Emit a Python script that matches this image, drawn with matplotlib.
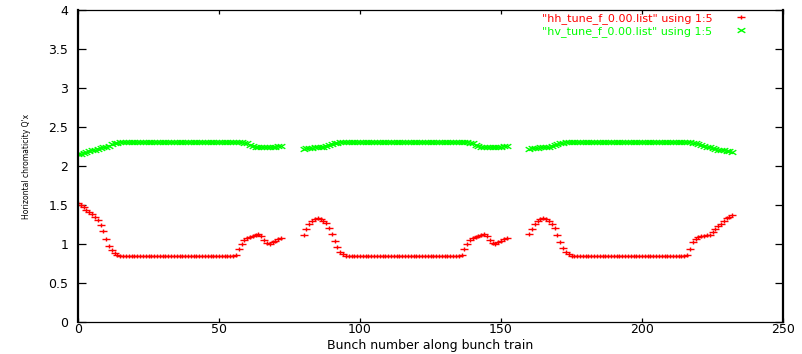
import numpy as np
import matplotlib
matplotlib.use('Agg')
import matplotlib.pyplot as plt
from matplotlib.path import Path

# first bunch number of each train
train_start = [0, 80, 160]

# "hh_tune_f_0.00.list" using 1:5  (one list per train)
hh_train1 = [1.53, 1.50, 1.47, 1.44, 1.41, 1.38, 1.35, 1.31, 1.25, 1.17,
             1.07, 0.98, 0.92, 0.88, 0.86, 0.85, 0.85, 0.85, 0.85, 0.85,
             0.85, 0.85, 0.85, 0.85, 0.85, 0.85, 0.85, 0.85, 0.85, 0.85,
             0.85, 0.85, 0.85, 0.85, 0.85, 0.85, 0.85, 0.85, 0.85, 0.85,
             0.85, 0.85, 0.85, 0.85, 0.85, 0.85, 0.85, 0.85, 0.85, 0.85,
             0.85, 0.85, 0.85, 0.85, 0.85, 0.85, 0.86, 0.93, 1.00, 1.05,
             1.08, 1.09, 1.10, 1.12, 1.13, 1.10, 1.05, 1.01, 1.00, 1.02,
             1.04, 1.06, 1.08]
hh_train2 = [1.12, 1.19, 1.26, 1.30, 1.32, 1.33, 1.32, 1.30, 1.27, 1.21,
             1.13, 1.04, 0.96, 0.90, 0.87, 0.85, 0.85, 0.85, 0.85, 0.85,
             0.85, 0.85, 0.85, 0.85, 0.85, 0.85, 0.85, 0.85, 0.85, 0.85,
             0.85, 0.85, 0.85, 0.85, 0.85, 0.85, 0.85, 0.85, 0.85, 0.85,
             0.85, 0.85, 0.85, 0.85, 0.85, 0.85, 0.85, 0.85, 0.85, 0.85,
             0.85, 0.85, 0.85, 0.85, 0.85, 0.85, 0.86, 0.93, 1.00, 1.05,
             1.08, 1.09, 1.10, 1.12, 1.13, 1.10, 1.05, 1.01, 1.00, 1.02,
             1.04, 1.06, 1.08]
hh_train3 = [1.13, 1.19, 1.26, 1.30, 1.32, 1.33, 1.32, 1.30, 1.26, 1.20,
             1.12, 1.03, 0.95, 0.90, 0.87, 0.85, 0.85, 0.85, 0.85, 0.85,
             0.85, 0.85, 0.85, 0.85, 0.85, 0.85, 0.85, 0.85, 0.85, 0.85,
             0.85, 0.85, 0.85, 0.85, 0.85, 0.85, 0.85, 0.85, 0.85, 0.85,
             0.85, 0.85, 0.85, 0.85, 0.85, 0.85, 0.85, 0.85, 0.85, 0.85,
             0.85, 0.85, 0.85, 0.85, 0.85, 0.85, 0.86, 0.94, 1.02, 1.07,
             1.09, 1.10, 1.10, 1.11, 1.12, 1.15, 1.19, 1.23, 1.26, 1.30,
             1.33, 1.35, 1.37]

# "hv_tune_f_0.00.list" using 1:5
hv_train1 = [2.15, 2.16, 2.17, 2.18, 2.19, 2.20, 2.21, 2.22, 2.23, 2.24,
             2.25, 2.26, 2.28, 2.29, 2.30, 2.31, 2.31, 2.31, 2.31, 2.31,
             2.31, 2.31, 2.31, 2.31, 2.31, 2.31, 2.31, 2.31, 2.31, 2.31,
             2.31, 2.31, 2.31, 2.31, 2.31, 2.31, 2.31, 2.31, 2.31, 2.31,
             2.31, 2.31, 2.31, 2.31, 2.31, 2.31, 2.31, 2.31, 2.31, 2.31,
             2.31, 2.31, 2.31, 2.31, 2.31, 2.31, 2.31, 2.31, 2.31, 2.30,
             2.29, 2.27, 2.26, 2.25, 2.24, 2.24, 2.24, 2.24, 2.24, 2.25,
             2.25, 2.26, 2.26]
hv_train2 = [2.22, 2.23, 2.23, 2.23, 2.24, 2.24, 2.24, 2.25, 2.26, 2.27,
             2.28, 2.29, 2.30, 2.31, 2.31, 2.31, 2.31, 2.31, 2.31, 2.31,
             2.31, 2.31, 2.31, 2.31, 2.31, 2.31, 2.31, 2.31, 2.31, 2.31,
             2.31, 2.31, 2.31, 2.31, 2.31, 2.31, 2.31, 2.31, 2.31, 2.31,
             2.31, 2.31, 2.31, 2.31, 2.31, 2.31, 2.31, 2.31, 2.31, 2.31,
             2.31, 2.31, 2.31, 2.31, 2.31, 2.31, 2.31, 2.31, 2.31, 2.30,
             2.29, 2.27, 2.26, 2.25, 2.24, 2.24, 2.24, 2.24, 2.24, 2.25,
             2.25, 2.26, 2.26]
hv_train3 = [2.22, 2.23, 2.23, 2.23, 2.24, 2.24, 2.24, 2.25, 2.26, 2.27,
             2.28, 2.29, 2.30, 2.31, 2.31, 2.31, 2.31, 2.31, 2.31, 2.31,
             2.31, 2.31, 2.31, 2.31, 2.31, 2.31, 2.31, 2.31, 2.31, 2.31,
             2.31, 2.31, 2.31, 2.31, 2.31, 2.31, 2.31, 2.31, 2.31, 2.31,
             2.31, 2.31, 2.31, 2.31, 2.31, 2.31, 2.31, 2.31, 2.31, 2.31,
             2.31, 2.31, 2.31, 2.31, 2.31, 2.31, 2.31, 2.31, 2.30, 2.29,
             2.28, 2.27, 2.26, 2.25, 2.24, 2.23, 2.22, 2.21, 2.21, 2.20,
             2.19, 2.19, 2.18]

hh_trains = [hh_train1, hh_train2, hh_train3]
hv_trains = [hv_train1, hv_train2, hv_train3]

xtick_values = [0, 50, 100, 150, 200, 250]
ytick_values = [0, 0.5, 1, 1.5, 2, 2.5, 3, 3.5, 4]
ytick_labels = ['0', '0.5', '1', '1.5', '2', '2.5', '3', '3.5', '4']

hh_label = '"hh_tune_f_0.00.list" using 1:5'
hv_label = '"hv_tune_f_0.00.list" using 1:5'

# the original postscript was stretched sideways, so the point symbols are wide
wide_plus = Path([(-1, 0), (1, 0), (0, -0.6), (0, 0.6)],
                 [Path.MOVETO, Path.LINETO, Path.MOVETO, Path.LINETO])
wide_cross = Path([(-1, -0.6), (1, 0.6), (-1, 0.6), (1, -0.6)],
                  [Path.MOVETO, Path.LINETO, Path.MOVETO, Path.LINETO])

plt.rcParams['font.family'] = ['DejaVu Sans']

fig = plt.figure(figsize=(8.02, 3.54), dpi=100)
ax = fig.add_axes([78/802, 32/354, 705/802, 312/354])

hh_handle = None
hv_handle = None
for start, hh, hv in zip(train_start, hh_trains, hv_trains):
    x = np.arange(start, start + len(hh))
    hh_line, = ax.plot(x, hh, linestyle='none', marker=wide_plus, color='#ff0000',
                       markersize=5.5, markeredgewidth=1.0)
    hv_line, = ax.plot(x, hv, linestyle='none', marker=wide_cross, color='#00ff00',
                       markersize=5.5, markeredgewidth=1.0)
    if hh_handle is None:
        hh_handle, hv_handle = hh_line, hv_line

ax.set_xlim(0, 250)
ax.set_ylim(0, 4)
ax.set_xticks(xtick_values)
ax.set_yticks(ytick_values)
ax.set_yticklabels(ytick_labels)

# gnuplot look: ticks inside, mirrored on all sides
ax.tick_params(axis='y', direction='in', length=5.5, width=0.9, pad=7,
               labelsize=9, left=True, right=True)
ax.tick_params(axis='x', direction='in', length=3, width=0.9, pad=0.5,
               labelsize=9, top=True, bottom=True)
for side in ['left', 'right']:
    ax.spines[side].set_linewidth(1.6)
for side in ['top', 'bottom']:
    ax.spines[side].set_linewidth(0.9)

ax.set_xlabel('Bunch number along bunch train', fontsize=9)
ax.xaxis.set_label_coords(0.5, -0.055)
ax.set_ylabel("Horizontal chromaticity Q'x", fontsize=5.5)
ax.yaxis.set_label_coords(-0.066, 0.5)

ax.legend([hh_handle, hv_handle], [hh_label, hv_label],
          loc='upper right', bbox_to_anchor=(0.961, 1.0), borderaxespad=0.1,
          frameon=False, markerfirst=False, fontsize=8, labelspacing=0.15,
          handlelength=2, handletextpad=1.6, borderpad=0.2,
          labelcolor=['#ff0000', '#00ff00'])

fig.savefig('out.png', dpi=100)
